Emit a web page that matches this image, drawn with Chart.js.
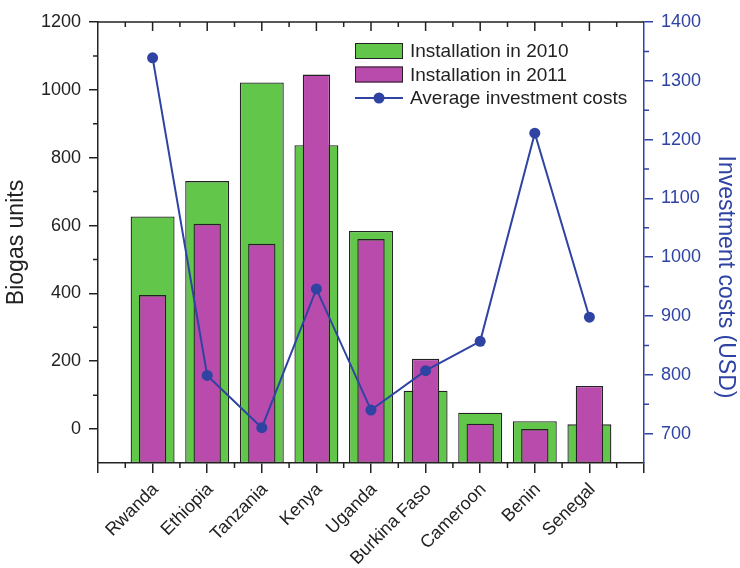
<!DOCTYPE html>
<html>
<head>
<meta charset="utf-8">
<title>Biogas units and investment costs</title>
<script src="https://cdn.jsdelivr.net/npm/chart.js@4"></script>
<style>
  html, body { margin: 0; padding: 0; background: #fff; }
  #wrap { width: 740px; height: 568px; }
</style>
</head>
<body>
<div id="wrap"><canvas id="chart" width="740" height="568"></canvas></div>
<script>
const countries = ['Rwanda', 'Ethiopia', 'Tanzania', 'Kenya', 'Uganda', 'Burkina Faso', 'Cameroon', 'Benin', 'Senegal'];
const units2010 = [627, 731, 1022, 837, 584, 113, 48, 23, 14];
const units2011 = [395, 605, 546, 1045, 560, 207, 16, 0, 127];
const avgCost = [1339, 799, 710, 946, 740, 807, 857, 1211, 898];

const unitsRange = [-100, 1200];
const costRange = [650, 1400];
const seriesNames = ['Installation in 2010', 'Installation in 2011', 'Average investment costs'];
const costTitle = 'Investment costs (USD)';

const FONT = "'Liberation Sans', Arial, sans-serif";
const INK = '#222222';
const GREEN = '#62c64b';
const MAGENTA = '#b84bab';
const BLUE = '#2f43a3';

// pairs each value with its category index on the linear x axis
function points(values) {
  return values.map((v, i) => ({ x: i, y: v }));
}

// short minor ticks, the top frame line, the right title and the legend
const axisMarks = {
  id: 'axisMarks',
  afterDraw(chart) {
    const { ctx, chartArea: a, scales } = chart;
    ctx.save();
    ctx.lineWidth = 1.5;

    ctx.strokeStyle = INK;
    ctx.beginPath();
    ctx.moveTo(a.left, a.top);
    ctx.lineTo(a.right, a.top);
    for (let v = 100; v < unitsRange[1]; v += 200) {
      const y = scales.y.getPixelForValue(v);
      ctx.moveTo(a.left - 5, y);
      ctx.lineTo(a.left, y);
    }
    for (let i = -0.5; i < countries.length; i += 1) {
      const x = scales.x.getPixelForValue(i);
      ctx.moveTo(x, a.bottom);
      ctx.lineTo(x, a.bottom + 5);
      ctx.moveTo(x, a.top);
      ctx.lineTo(x, a.top + 5);
    }
    for (let i = 0; i < countries.length; i++) {
      const x = scales.x.getPixelForValue(i);
      ctx.moveTo(x, a.top);
      ctx.lineTo(x, a.top + 9);
    }
    ctx.stroke();

    ctx.strokeStyle = BLUE;
    ctx.beginPath();
    for (let v = 750; v < costRange[1]; v += 100) {
      const y = scales.y1.getPixelForValue(v);
      ctx.moveTo(a.right, y);
      ctx.lineTo(a.right + 5, y);
    }
    ctx.stroke();

    // right axis title, reading downwards
    ctx.save();
    ctx.translate(a.right + 81, a.top + 255);
    ctx.rotate(Math.PI / 2);
    ctx.fillStyle = BLUE;
    ctx.font = `23px ${FONT}`;
    ctx.textAlign = 'center';
    ctx.textBaseline = 'middle';
    ctx.fillText(costTitle, 0, 0);
    ctx.restore();

    // legend
    const bx = a.left + 257;
    const tx = bx + 55;
    const rows = [a.top + 29, a.top + 52.5, a.top + 76];
    ctx.lineWidth = 1;
    ctx.strokeStyle = INK;
    [GREEN, MAGENTA].forEach((c, i) => {
      ctx.fillStyle = c;
      ctx.fillRect(bx, rows[i] - 8, 48, 16);
      ctx.strokeRect(bx + 0.5, rows[i] - 7.5, 47, 15);
    });
    ctx.strokeStyle = BLUE;
    ctx.lineWidth = 2;
    ctx.beginPath();
    ctx.moveTo(bx, rows[2]);
    ctx.lineTo(bx + 48, rows[2]);
    ctx.stroke();
    ctx.fillStyle = BLUE;
    ctx.beginPath();
    ctx.arc(bx + 24, rows[2], 5.5, 0, Math.PI * 2);
    ctx.fill();

    ctx.fillStyle = INK;
    ctx.font = `19px ${FONT}`;
    ctx.textBaseline = 'middle';
    ctx.textAlign = 'left';
    seriesNames.forEach((name, i) => ctx.fillText(name, tx, rows[i] + 1));
    ctx.restore();
  }
};

new Chart(document.getElementById('chart'), {
  type: 'bar',
  data: {
    datasets: [
      {
        type: 'line',
        label: seriesNames[2],
        data: points(avgCost),
        yAxisID: 'y1',
        borderColor: BLUE,
        backgroundColor: BLUE,
        borderWidth: 2,
        pointRadius: 5.5,
        pointBackgroundColor: BLUE,
        pointBorderWidth: 0,
        tension: 0,
        order: 0
      },
      {
        label: seriesNames[1],
        data: points(units2011),
        yAxisID: 'y',
        base: unitsRange[0],
        grouped: false,
        categoryPercentage: 1,
        barPercentage: 0.5,
        backgroundColor: MAGENTA,
        borderColor: INK,
        borderWidth: 1.3,
        borderSkipped: false,
        order: 1
      },
      {
        label: seriesNames[0],
        data: points(units2010),
        yAxisID: 'y',
        base: unitsRange[0],
        grouped: false,
        categoryPercentage: 1,
        barPercentage: 0.805,
        backgroundColor: GREEN,
        borderColor: INK,
        borderWidth: 1.3,
        borderSkipped: false,
        order: 2
      }
    ]
  },
  options: {
    responsive: false,
    animation: false,
    layout: { padding: { top: 22 } },
    plugins: {
      legend: { display: false },
      tooltip: { enabled: false }
    },
    scales: {
      x: {
        type: 'linear',
        position: 'bottom',
        min: -1,
        max: countries.length,
        offset: false,
        afterFit: (s) => { s.height = 105; },
        grid: { display: true, drawOnChartArea: false, offset: false, tickLength: 10, color: INK, lineWidth: 1.5 },
        border: { display: true, color: INK, width: 1.5 },
        ticks: {
          stepSize: 1,
          autoSkip: false,
          minRotation: 45,
          maxRotation: 45,
          padding: 6,
          labelOffset: 3,
          color: INK,
          font: { family: FONT, size: 18 },
          callback: (v) => countries[v] ?? ''
        }
      },
      y: {
        position: 'left',
        min: unitsRange[0],
        max: unitsRange[1],
        afterFit: (s) => { s.width = 98; },
        grid: { display: true, drawOnChartArea: false, tickLength: 9, color: INK, lineWidth: 1.5 },
        border: { display: true, color: INK, width: 1.5 },
        ticks: {
          stepSize: 200,
          includeBounds: false,
          padding: 8,
          color: INK,
          font: { family: FONT, size: 18 },
          callback: (v) => String(v)
        },
        title: {
          display: true,
          text: 'Biogas units',
          color: INK,
          padding: { top: 3, bottom: 0 },
          font: { family: FONT, size: 23 }
        }
      },
      y1: {
        position: 'right',
        min: costRange[0],
        max: costRange[1],
        afterFit: (s) => { s.width = 96; },
        grid: { display: true, drawOnChartArea: false, tickLength: 9, color: BLUE, lineWidth: 1.5 },
        border: { display: true, color: BLUE, width: 1.5 },
        ticks: {
          stepSize: 100,
          includeBounds: false,
          padding: 8,
          color: BLUE,
          font: { family: FONT, size: 18 },
          callback: (v) => String(v)
        }
      }
    }
  },
  plugins: [axisMarks]
});
</script>
</body>
</html>
